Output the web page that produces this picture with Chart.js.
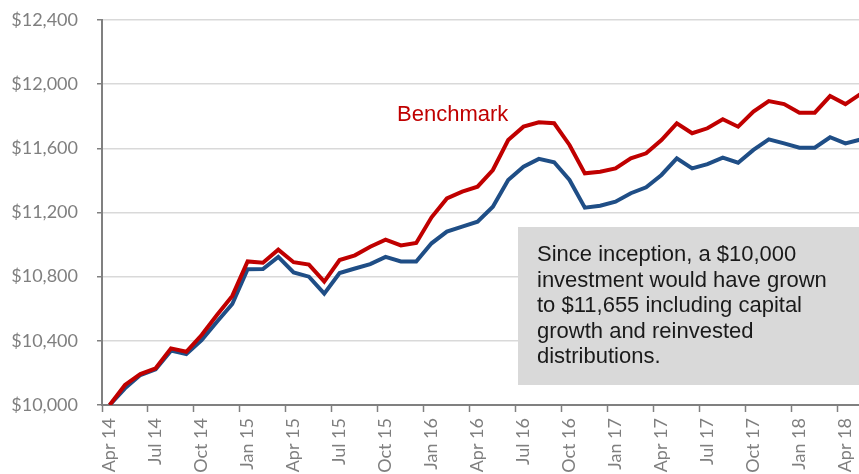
<!DOCTYPE html>
<html>
<head>
<meta charset="utf-8">
<script src="https://cdn.jsdelivr.net/npm/chart.js@4.4.1/dist/chart.umd.min.js"></script>
<style>
  html, body { margin: 0; padding: 0; background: #fff; }
  #wrap { width: 859px; height: 474px; overflow: hidden; position: relative; }
  #wrap canvas { position: absolute; left: 0; top: 0; }
</style>
</head>
<body>
<div id="wrap"><canvas id="growthChart" width="870" height="474"></canvas></div>
<script>
// month labels, Apr 14 .. May 18
const months = [
  'Apr 14', 'May 14', 'Jun 14', 'Jul 14', 'Aug 14', 'Sep 14', 'Oct 14', 'Nov 14', 'Dec 14',
  'Jan 15', 'Feb 15', 'Mar 15', 'Apr 15', 'May 15', 'Jun 15', 'Jul 15', 'Aug 15', 'Sep 15',
  'Oct 15', 'Nov 15', 'Dec 15', 'Jan 16', 'Feb 16', 'Mar 16', 'Apr 16', 'May 16', 'Jun 16',
  'Jul 16', 'Aug 16', 'Sep 16', 'Oct 16', 'Nov 16', 'Dec 16', 'Jan 17', 'Feb 17', 'Mar 17',
  'Apr 17', 'May 17', 'Jun 17', 'Jul 17', 'Aug 17', 'Sep 17', 'Oct 17', 'Nov 17', 'Dec 17',
  'Jan 18', 'Feb 18', 'Mar 18', 'Apr 18', 'May 18'
];

const benchmark = [
  10000, 10125, 10193, 10229, 10353, 10332, 10436, 10561, 10680, 10895,
  10887, 10968, 10890, 10875, 10769, 10904, 10933, 10987, 11031, 10995,
  11010, 11170, 11288, 11330, 11361, 11465, 11652, 11735, 11762, 11756,
  11621, 11444, 11454, 11475, 11538, 11569, 11652, 11756, 11694, 11725,
  11781, 11735, 11829, 11895, 11876, 11822, 11822, 11926, 11876, 11939
];

const fund = [
  10000, 10104, 10187, 10222, 10339, 10318, 10405, 10519, 10630, 10846,
  10848, 10923, 10826, 10800, 10694, 10823, 10851, 10878, 10923, 10895,
  10895, 11008, 11081, 11112, 11143, 11236, 11403, 11486, 11534, 11513,
  11403, 11230, 11242, 11267, 11320, 11357, 11434, 11538, 11475, 11502,
  11542, 11510, 11590, 11656, 11631, 11604, 11604, 11669, 11631, 11655
];

const noteLines = [
  'Since inception, a $10,000',
  'investment would have grown',
  'to $11,655 including capital',
  'growth and reinvested',
  'distributions.'
];

const RED = '#c00000';
const BLUE = '#1f4e86';
const AXIS_GREY = '#808080';
const TICK_FONT = { family: 'Lato', size: 18 };

// grey note box + "Benchmark" label, drawn over the gridlines
const notePlugin = {
  id: 'notes',
  afterDatasetsDraw(chart) {
    const ctx = chart.ctx;
    ctx.save();
    ctx.fillStyle = '#d9d9d9';
    ctx.fillRect(518, 227, chart.width - 518, 158);
    ctx.fillStyle = '#1a1a1a';
    ctx.font = '22px "Liberation Sans", Arial, sans-serif';
    ctx.textBaseline = 'alphabetic';
    noteLines.forEach((line, i) => {
      ctx.fillText(line, 537, 261 + i * 25.5);
    });
    ctx.fillStyle = RED;
    ctx.font = '22px "Liberation Sans", Arial, sans-serif';
    ctx.fillText('Benchmark', 397, 121);
    ctx.restore();
  }
};

new Chart(document.getElementById('growthChart').getContext('2d'), {
  type: 'line',
  data: {
    labels: months,
    datasets: [{
      label: 'Benchmark',
      data: benchmark,
      borderColor: RED,
      borderWidth: 4,
      pointRadius: 0,
      tension: 0
    }, {
      label: 'Fund',
      data: fund,
      borderColor: BLUE,
      borderWidth: 4,
      pointRadius: 0,
      tension: 0
    }]
  },
  options: {
    responsive: false,
    animation: false,
    events: [],
    layout: {
      autoPadding: false,
      padding: { left: 0, right: 1.6, top: 20, bottom: 0 }
    },
    plugins: {
      legend: { display: false },
      tooltip: { enabled: false }
    },
    scales: {
      x: {
        offset: true,
        afterFit: scale => {
          scale.height = 69;
          scale.paddingLeft = 0;
          scale.paddingRight = 0;
        },
        border: { color: AXIS_GREY, width: 2 },
        grid: {
          offset: true,
          drawOnChartArea: false,
          tickLength: 7,
          tickWidth: 1.5,
          tickColor: c => (c.index % 3 === 0 ? AXIS_GREY : 'rgba(0,0,0,0)')
        },
        ticks: {
          autoSkip: false,
          minRotation: 90,
          maxRotation: 90,
          padding: 6,
          color: '#7f7f7f',
          font: TICK_FONT,
          callback: function (v, i) { return i % 3 === 0 ? this.getLabelForValue(v) : ''; }
        }
      },
      y: {
        min: 10000,
        max: 12400,
        afterFit: scale => {
          scale.width = 102;
          scale.paddingTop = 0;
          scale.paddingBottom = 0;
        },
        border: { color: AXIS_GREY, width: 2 },
        grid: {
          color: '#d9d9d9',
          lineWidth: 1.5,
          tickLength: 5,
          tickColor: AXIS_GREY
        },
        ticks: {
          stepSize: 400,
          padding: 19,
          color: '#7f7f7f',
          font: TICK_FONT,
          callback: v => '$' + v.toLocaleString('en-US')
        }
      }
    }
  },
  plugins: [notePlugin]
});
</script>
</body>
</html>
